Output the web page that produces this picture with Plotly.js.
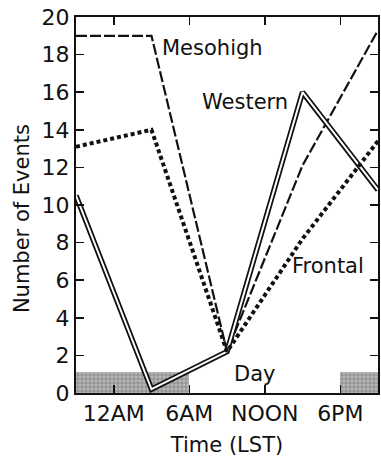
<!DOCTYPE html>
<html>
<head>
<meta charset="utf-8">
<script src="https://cdn.plot.ly/plotly-3.0.1.min.js"></script>
<style>html,body{margin:0;padding:0;background:#fff;}#chart{width:381px;height:461px;}</style>
</head>
<body>
<div id="chart"></div>
<script>
// Hours (LST); -3 = 9PM of previous day
var hours = [-3, 3, 9, 15, 21];
var mesohigh = [19, 19, 2.2, 12.1, 19.3];
var western = [10.5, 0.2, 2.2, 16.0, 10.8];
var frontal = [13.1, 14.0, 2.2, 8.2, 13.4];
var tickHours = [0, 6, 12, 18];
var tickLabels = ['12AM', '6AM', 'NOON', '6PM'];
// Night periods shaded along the bottom
var nightStart = [-3, 18];
var nightEnd = [6, 21];
var nightLevel = 1.1;

var nightMid = nightStart.map(function (s, i) { return (s + nightEnd[i]) / 2; });
var nightWidth = nightStart.map(function (s, i) { return nightEnd[i] - s; });

var FONT = 'DejaVu Sans, Arial, sans-serif';
var INK = '#111';

var traces = [
  {
    type: 'bar', x: nightMid, y: nightStart.map(function () { return nightLevel; }),
    width: nightWidth, base: 0,
    marker: { color: '#a8a8a8', line: { width: 0 },
      pattern: { shape: '+', fgcolor: '#767676', bgcolor: '#b8b8b8', size: 4, solidity: 0.3 } },
    hoverinfo: 'skip', showlegend: false
  },
  { type: 'scatter', mode: 'lines', x: hours, y: mesohigh,
    line: { color: INK, width: 2.2, dash: '11px,3px' }, showlegend: false },
  { type: 'scatter', mode: 'lines', x: hours, y: western,
    line: { color: INK, width: 5.5 }, showlegend: false },
  { type: 'scatter', mode: 'lines', x: hours, y: western,
    line: { color: '#fff', width: 2 }, showlegend: false },
  { type: 'scatter', mode: 'lines', x: hours, y: frontal,
    line: { color: INK, width: 4, dash: '4px,3px' }, showlegend: false }
];

var layout = {
  width: 381, height: 461,
  margin: { l: 76, r: 3, t: 17, b: 68 },
  paper_bgcolor: '#fff', plot_bgcolor: '#fff',
  font: { family: FONT, color: INK, size: 22 },
  showlegend: false,
  bargap: 0,
  xaxis: {
    range: [-3, 21], tickmode: 'array', tickvals: tickHours, ticktext: tickLabels,
    ticks: 'inside', ticklen: 8, tickwidth: 1.5, tickcolor: INK,
    showline: true, linewidth: 2, linecolor: INK, mirror: 'ticks',
    showgrid: false, zeroline: false,
    tickfont: { family: FONT, size: 22, color: INK },
    title: { text: 'Time (LST)', font: { family: FONT, size: 21, color: INK }, standoff: 12 }
  },
  yaxis: {
    range: [0, 20], dtick: 2, tick0: 0,
    ticks: 'inside', ticklen: 8, tickwidth: 1.5, tickcolor: INK,
    showline: true, linewidth: 2, linecolor: INK, mirror: 'ticks',
    showgrid: false, zeroline: false,
    tickfont: { family: FONT, size: 22, color: INK }
  },
  annotations: [
    { xref: 'paper', yref: 'y', x: -0.179, y: 9.3, text: 'Number of Events', textangle: -90,
      xanchor: 'center', yanchor: 'middle', showarrow: false,
      font: { family: FONT, size: 21, color: INK } },
    { x: 3.7, y: 18.35, text: 'Mesohigh', xanchor: 'left', yanchor: 'middle', showarrow: false,
      font: { family: FONT, size: 21, color: INK } },
    { x: 6.85, y: 15.5, text: 'Western', xanchor: 'left', yanchor: 'middle', showarrow: false,
      font: { family: FONT, size: 21, color: INK } },
    { x: 14.0, y: 6.75, text: 'Frontal', xanchor: 'left', yanchor: 'middle', showarrow: false,
      font: { family: FONT, size: 21, color: INK } },
    { x: 11.2, y: 1.0, text: 'Day', xanchor: 'center', yanchor: 'middle', showarrow: false,
      font: { family: FONT, size: 21, color: INK } }
  ]
};

Plotly.newPlot('chart', traces, layout, { staticPlot: true, displayModeBar: false });
</script>
</body>
</html>
